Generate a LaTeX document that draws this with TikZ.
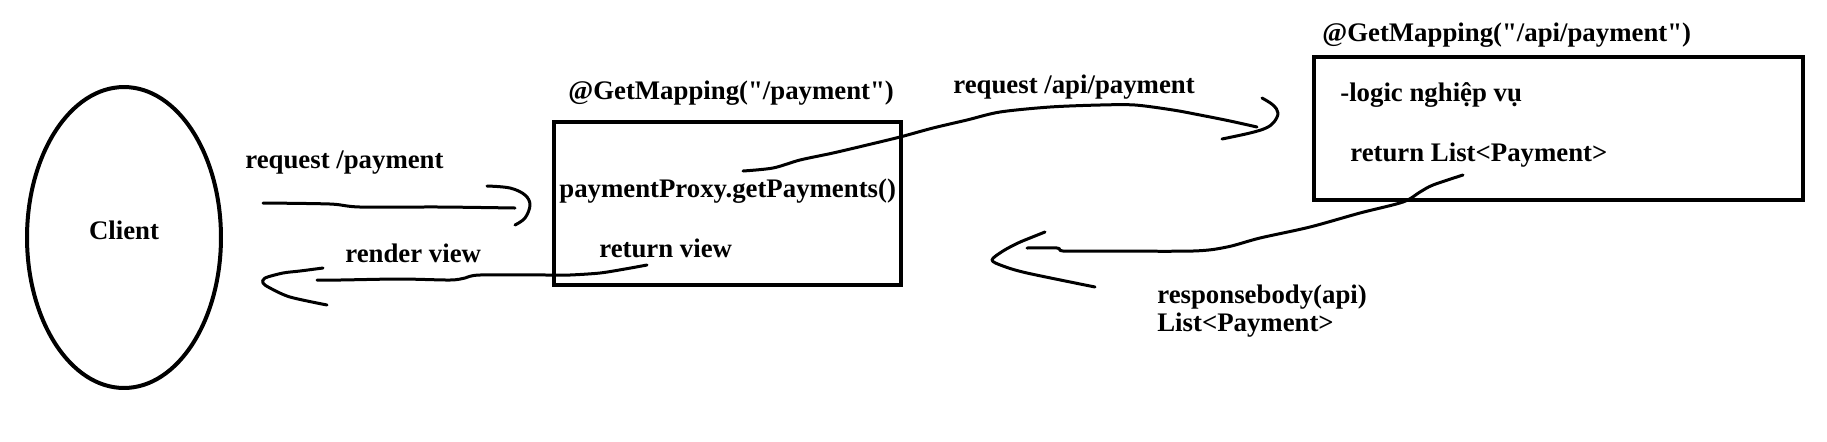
\documentclass[tikz,border=0pt]{standalone}
\usepackage{fontspec}
\setmainfont{Liberation Serif}[Ligatures=TeXOff]
\usetikzlibrary{positioning, shapes.geometric}

\begin{document}
\begin{tikzpicture}[
    x=0.02cm, y=-0.02cm,
    font=\bfseries\fontsize{15.25}{15.9}\selectfont,
    block/.style={
      draw,
      line width=0.08cm,
      inner sep=0pt
    },
    clientshape/.style={
      draw,
      ellipse,
      line width=0.08cm,
      inner sep=0pt,
      minimum width=3.88cm,
      minimum height=6.02cm
    },
    lbl/.style={anchor=west, inner sep=0pt},
    handline/.style={line width=0.06cm, line cap=round, line join=round}
]
\useasboundingbox (0,0) rectangle (1827,441);

\node[clientshape, label={[yshift=0.15cm]center:Client}] (client) at (124,237.5) {};

\node[block, minimum width=6.94cm, minimum height=3.26cm] (proxy) at (727.5,203.5) {};
\node[lbl] (proxymap) at (568,93) {@GetMapping("/payment")};
\node[lbl] (proxycall) at (559,191) {paymentProxy.getPayments()};
\node[lbl] (proxyret) at (599,248) {return view};

\node[block, minimum width=9.78cm, minimum height=2.86cm] (api) at (1558.5,128.5) {};
\node[lbl] (apimap) at (1322,35) {@GetMapping("/api/payment")};
\node[lbl] (apilogic) at (1340,95) {-logic nghiệp vụ};
\node[lbl] (apireturn) at (1350,155) {return List<Payment>};

\node[lbl] (reqlbl) at (245,163) {request /payment};
\node[lbl] (renderlbl) at (345,253) {render view};
\node[lbl] (apireqlbl) at (953,87) {request /api/payment};
\node[lbl, align=left] (resplbl) at (1157,311) {responsebody(api)\\List<Payment>};

\coordinate (reqstart) at (263,203);
\coordinate (reqend) at (515,208);
\coordinate (retstart) at (647,265);
\coordinate (retend) at (317,280);
\coordinate (apistart) at (743,171);
\coordinate (apiend) at (1257,127);
\coordinate (respstart) at (1463,175);
\coordinate (respend) at (1027,248);

\draw[handline] plot[smooth, tension=0.5] coordinates {(reqstart) (330,204) (360,207) (440,207) (reqend)};
\draw[handline] plot[smooth, tension=0.6] coordinates {(487,186) (510,188) (525,195) (530,205) (525,218) (515,225)};

\draw[handline] plot[smooth, tension=0.5] coordinates {(retstart) (625,269) (600,273) (570,275) (550,275) (480,275) (465,278) (450,280) (400,279) (340,280) (retend)};
\draw[handline] plot[smooth, tension=0.5] coordinates {(323,268) (300,271) (283,273) (265,278) (263,283) (270,288) (290,297) (327,305)};

\draw[handline] plot[smooth, tension=0.5] coordinates {(apistart) (773,168) (800,160) (833,153) (867,145) (900,137) (933,128) (967,120) (1000,112) (1050,107) (1100,105) (1135,105) (1173,110) (1200,115) (1230,121) (apiend)};
\draw[handline] plot[smooth, tension=0.6] coordinates {(1262,98) (1273,105) (1278,113) (1274,122) (1266,128) (1250,133) (1222,139)};

\draw[handline] plot[smooth, tension=0.5] coordinates {(respstart) (1433,185) (1420,192) (1403,202) (1360,213) (1310,227) (1260,238) (1227,247) (1193,251) (1100,251) (1063,251) (1057,248) (respend)};
\draw[handline] plot[smooth, tension=0.5] coordinates {(1045,232) (1030,238) (1018,243) (1003,251) (992,260) (1003,266) (1027,273) (1095,287)};
\end{tikzpicture}
\end{document}
